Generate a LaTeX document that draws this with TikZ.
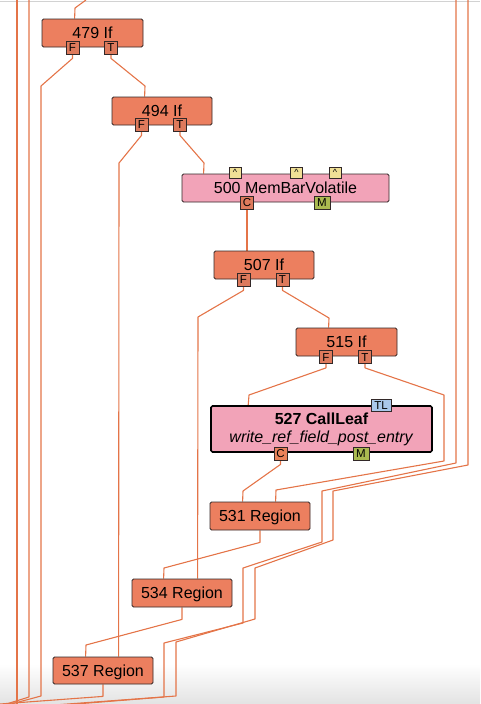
\documentclass[tikz,border=0pt]{standalone}
\usepackage{fontspec}
\setmainfont{Liberation Sans}
\usetikzlibrary{calc}
\pgfdeclarelayer{background}
\pgfsetlayers{background,main}
\definecolor{edgec}{RGB}{228,116,72}
\definecolor{ifc}{RGB}{236,127,95}
\definecolor{portc}{RGB}{222,122,92}
\definecolor{pinkc}{RGB}{242,163,184}
\definecolor{capc}{RGB}{240,224,150}
\definecolor{mc}{RGB}{170,186,80}
\definecolor{tlc}{RGB}{170,200,235}
\definecolor{cc}{RGB}{234,130,90}
\definecolor{bordc}{RGB}{50,40,40}
\tikzset{
  op/.style={draw=bordc, fill=ifc, rounded corners=1.5pt, minimum width=#1, minimum height=28pt,
    inner sep=0pt, font=\fontsize{16}{18}\selectfont, line width=0.8pt, text height=11.5pt, text depth=0pt},
  op/.default=100pt,
  pinkop/.style={op=#1, fill=pinkc},
  callop/.style={draw=black, fill=pinkc, rounded corners=1.5pt, minimum width=221pt, minimum height=46pt,
    inner sep=0pt, align=center, font=\fontsize{16}{18}\selectfont, line width=1.6pt},
  port/.style={draw=bordc, fill=#1, minimum width=13pt, minimum height=13pt, inner sep=0pt,
    font=\fontsize{11.5}{12}\selectfont, line width=0.8pt, text height=8.3pt, text depth=0pt},
  port/.default=portc,
  wideport/.style={port=#1, minimum width=16pt},
  capport/.style={port=capc, minimum width=12pt, minimum height=11pt, font=\fontsize{9}{10}\selectfont, text height=6pt},
  tlport/.style={port=tlc, minimum width=20pt, minimum height=12pt, text height=8pt},
  wire/.style={draw=edgec, line width=1.1pt, line join=round}
}
\begin{document}
\begin{tikzpicture}[x=1pt,y=-1pt]
\useasboundingbox (0,0) rectangle (480,704);
\clip (0,0) rectangle (480,704);

% nodes
\node[op=101pt] (n479) at (92.5,33) {479 If};
\node[op] (n494) at (162,111) {494 If};
\node[pinkop=207pt] (n500) at (285.5,188) {500 MemBarVolatile};
\node[op] (n507) at (264,265) {507 If};
\node[op=101pt] (n515) at (346.5,342) {515 If};
\node[callop] (n527) at (321.5,429) {\textbf{527 CallLeaf}\\\textit{write\_ref\_field\_post\_entry}};
\node[op] (n531) at (260,516) {531 Region};
\node[op] (n534) at (182,593) {534 Region};
\node[op, minimum height=27pt] (n537) at (103,670.5) {537 Region};

% ports
\node[port] (p479F) at (72.5,47.5) {F};
\node[port] (p479T) at (111,47.5) {T};
\node[port] (p494F) at (141.5,124.5) {F};
\node[port] (p494T) at (180,124.5) {T};
\node[capport] (p500a) at (235,172.5) {\textasciicircum};
\node[capport] (p500b) at (296.5,172.5) {\textasciicircum};
\node[capport] (p500c) at (335,172.5) {\textasciicircum};
\node[port] (p500C) at (247,202.5) {C};
\node[wideport=mc] (p500M) at (322,202.5) {M};
\node[port] (p507F) at (243.5,279.5) {F};
\node[port] (p507T) at (282.5,279.5) {T};
\node[port] (p515F) at (326,357) {F};
\node[port] (p515T) at (365,357) {T};
\node[tlport] (p527TL) at (381,405) {TL};
\node[port=cc] (p527C) at (280.5,453.5) {C};
\node[wideport=mc] (p527M) at (361,453.5) {M};

% free ends
\coordinate (top479) at (86,0);
\coordinate (topL1) at (17,0);
\coordinate (topL2) at (29,0);
\coordinate (topR1) at (456,0);
\coordinate (topR2) at (468,0);
\coordinate (endL1) at (17,710);
\coordinate (endL2) at (0,706);
\coordinate (endA) at (0,707);
\coordinate (endB) at (0,704);
\coordinate (endR1) at (0,710);
\coordinate (endR2) at (0,709);

\begin{pgfonlayer}{background}
\shade[top color=white, bottom color=gray!22] (0,664) rectangle (480,704);
\draw[gray!35, line width=1pt] (0,1) -- (480,1);

\draw[wire] (top479) -- (75,8) -- ($(n479.north west)+(33,0)$);
\draw[wire] (p479F.south) -- ++(0,4) -- (41,86) -- (41,696) -- (endA);
\draw[wire] (p479T.south) -- ++(0,4) -- (145,86) -- ($(n494.north west)+(33,0)$);
\draw[wire] (p494F.south) -- ++(0,4) -- (119,163) -- ($(n537.north west)+(66,0)$);
\draw[wire] (p494T.south) -- ++(0,4) -- (204,163) -- ($(n500.north west)+(22,0)$);
\draw[wire] (p500C.south) -- (p500C.south |- n507.north);
\draw[wire] (p507F.south) -- ++(0,4) -- (198,317) -- ($(n534.north west)+(66,0)$);
\draw[wire] (p507T.south) -- ++(0,4) -- (329,318) -- ($(n515.north west)+(33,0)$);
\draw[wire] (p515F.south) -- ++(0,4) -- (249,395) -- ($(n527.north west)+(38,0)$);
\draw[wire] (p515T.south) -- ++(0,4) -- (444,395) -- (444,461) -- (276,490) -- ($(n531.north west)+(66,0)$);
\draw[wire] (p527C.south) -- ++(0,4) -- (243,491) -- ($(n531.north west)+(33,0)$);
\draw[wire] (n531.south) -- ++(0,12) -- (164,568) -- ($(n534.north west)+(32,0)$);
\draw[wire] (n534.south) -- ++(0,12) -- (86,645) -- ($(n537.north west)+(33,0)$);
\draw[wire] (n537.south) -- ++(0,12) -- (endB);

\draw[wire] (topL1) -- (endL1);
\draw[wire] (topL2) -- (29,697) -- (endL2);
\draw[wire] (topR1) -- (456,463) -- (322,491) -- (322,542) -- (243,568) -- (243,623) -- (164,643) -- (164,697) -- (endR1);
\draw[wire] (topR2) -- (468,465) -- (333,491) -- (333,540) -- (255,568) -- (255,619) -- (176,642) -- (176,696) -- (endR2);
\end{pgfonlayer}
\end{tikzpicture}
\end{document}
